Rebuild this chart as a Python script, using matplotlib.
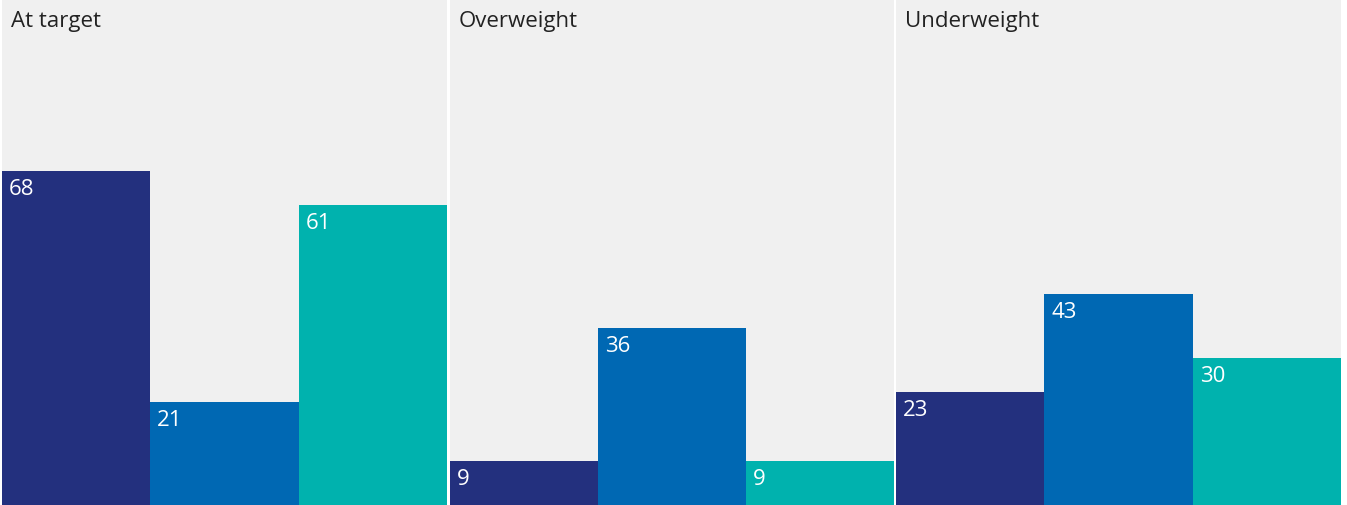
import matplotlib.pyplot as plt

# data
panels = ["At target", "Overweight", "Underweight"]
series_a = [68, 9, 23]
series_b = [21, 36, 43]
series_c = [61, 9, 30]

colors = ["#23307e", "#0068b3", "#00b2ae"]
bg = "#f0f0f0"

plt.rcParams['font.family'] = ['Open Sans', 'DejaVu Sans']

fig = plt.figure(figsize=(13.47, 5.05), dpi=100)
W, H = 1347, 505
# panel pixel extents (left, width)
boxes = [(2, 445), (450, 444), (896, 445)]

for i, name in enumerate(panels):
    left, width = boxes[i]
    ax = fig.add_axes([left / W, 0, width / W, 1])
    ax.set_facecolor(bg)
    vals = [series_a[i], series_b[i], series_c[i]]
    bars = ax.bar([0, 1, 2], vals, width=1, align='edge', color=colors, linewidth=0)
    ax.set_xlim(0, 3)
    ax.set_ylim(0, 102.8)
    for b, v in zip(bars, vals):
        ax.annotate(str(v), (b.get_x(), v), xytext=(7, -8), textcoords='offset pixels',
                    ha='left', va='top', color='white', fontsize=16)
    ax.text(9 / width, 1 - 11 / H, name, transform=ax.transAxes, ha='left', va='top',
            fontsize=16, color='#222222')
    ax.set_xticks([])
    ax.set_yticks([])
    for s in ax.spines.values():
        s.set_visible(False)

fig.savefig("out.png", dpi=100, facecolor='white')
